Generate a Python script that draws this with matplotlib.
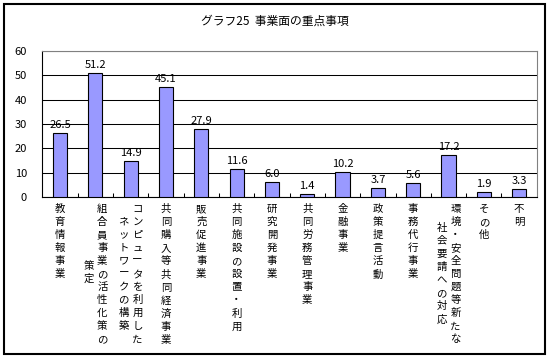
import matplotlib.pyplot as plt
from matplotlib.patches import Rectangle

plt.rcParams['font.family'] = ['Noto Sans CJK JP', 'DejaVu Sans']

title = 'グラフ25  事業面の重点事項'
# each label: list of columns, first column drawn on the right
labels = [
    ['教育情報事業'],
    ['組合員事業の活性化策の', '策定'],
    ['コンピュータを利用した', 'ネットワークの構築'],
    ['共同購入等共同経済事業'],
    ['販売促進事業'],
    ['共同施設の設置・利用'],
    ['研究開発事業'],
    ['共同労務管理事業'],
    ['金融事業'],
    ['政策提言活動'],
    ['事務代行事業'],
    ['環境・安全問題等新たな', '社会要請への対応'],
    ['その他'],
    ['不明'],
]
values = [26.5, 51.2, 14.9, 45.1, 27.9, 11.6, 6.0, 1.4, 10.2, 3.7, 5.6, 17.2, 1.9, 3.3]
yticks = [0, 10, 20, 30, 40, 50, 60]

fig = plt.figure(figsize=(5.5, 3.6), dpi=100)
ax = fig.add_axes([0.077, 0.453, 0.899, 0.405])

# outer chart border
fig.patches.append(Rectangle((0.008, 0.017), 0.982, 0.972, transform=fig.transFigure,
                             fill=False, edgecolor='black', linewidth=1.5))

x = range(len(values))
ax.bar(x, values, width=0.4, color='#9999ff', edgecolor='black', linewidth=0.8, zorder=3)
for i, v in enumerate(values):
    ax.text(i, v + 1.2, f'{v:.1f}', ha='center', va='bottom', fontsize=8)

ax.set_xlim(-0.5, len(values) - 0.5)
ax.set_ylim(0, 60)
ax.set_yticks(yticks)
ax.set_yticklabels([str(t) for t in yticks], fontsize=8)
ax.yaxis.grid(True, color='black', linewidth=0.75)
ax.set_axisbelow(True)
ax.tick_params(axis='y', length=0, pad=11)

ax.set_xticks([i + 0.5 for i in range(len(values) - 1)])
ax.set_xticklabels([])
ax.tick_params(axis='x', direction='in', length=3, width=0.75)

for s in ['left', 'bottom']:
    ax.spines[s].set_color('black')
    ax.spines[s].set_linewidth(0.8)
for s in ['top', 'right']:
    ax.spines[s].set_color('#808080')
    ax.spines[s].set_linewidth(0.8)

# vertical category labels
char_h = 9.1  # points per character
for i, cols in enumerate(labels):
    nmax = max(len(c) for c in cols)
    n = len(cols)
    for j, col in enumerate(cols):
        dx = 0 if n == 1 else (5 if j == 0 else -5)
        dy = -5 - (nmax - len(col)) / 2 * char_h
        ax.annotate('\n'.join(col), xy=(i, 0), xycoords=('data', 'axes fraction'),
                    xytext=(dx, dy), textcoords='offset points',
                    ha='center', va='top', fontsize=7.5, linespacing=1.38)

fig.text(0.5, 0.94, title, ha='center', va='center', fontsize=8.5)

fig.savefig('out.png', dpi=100)
